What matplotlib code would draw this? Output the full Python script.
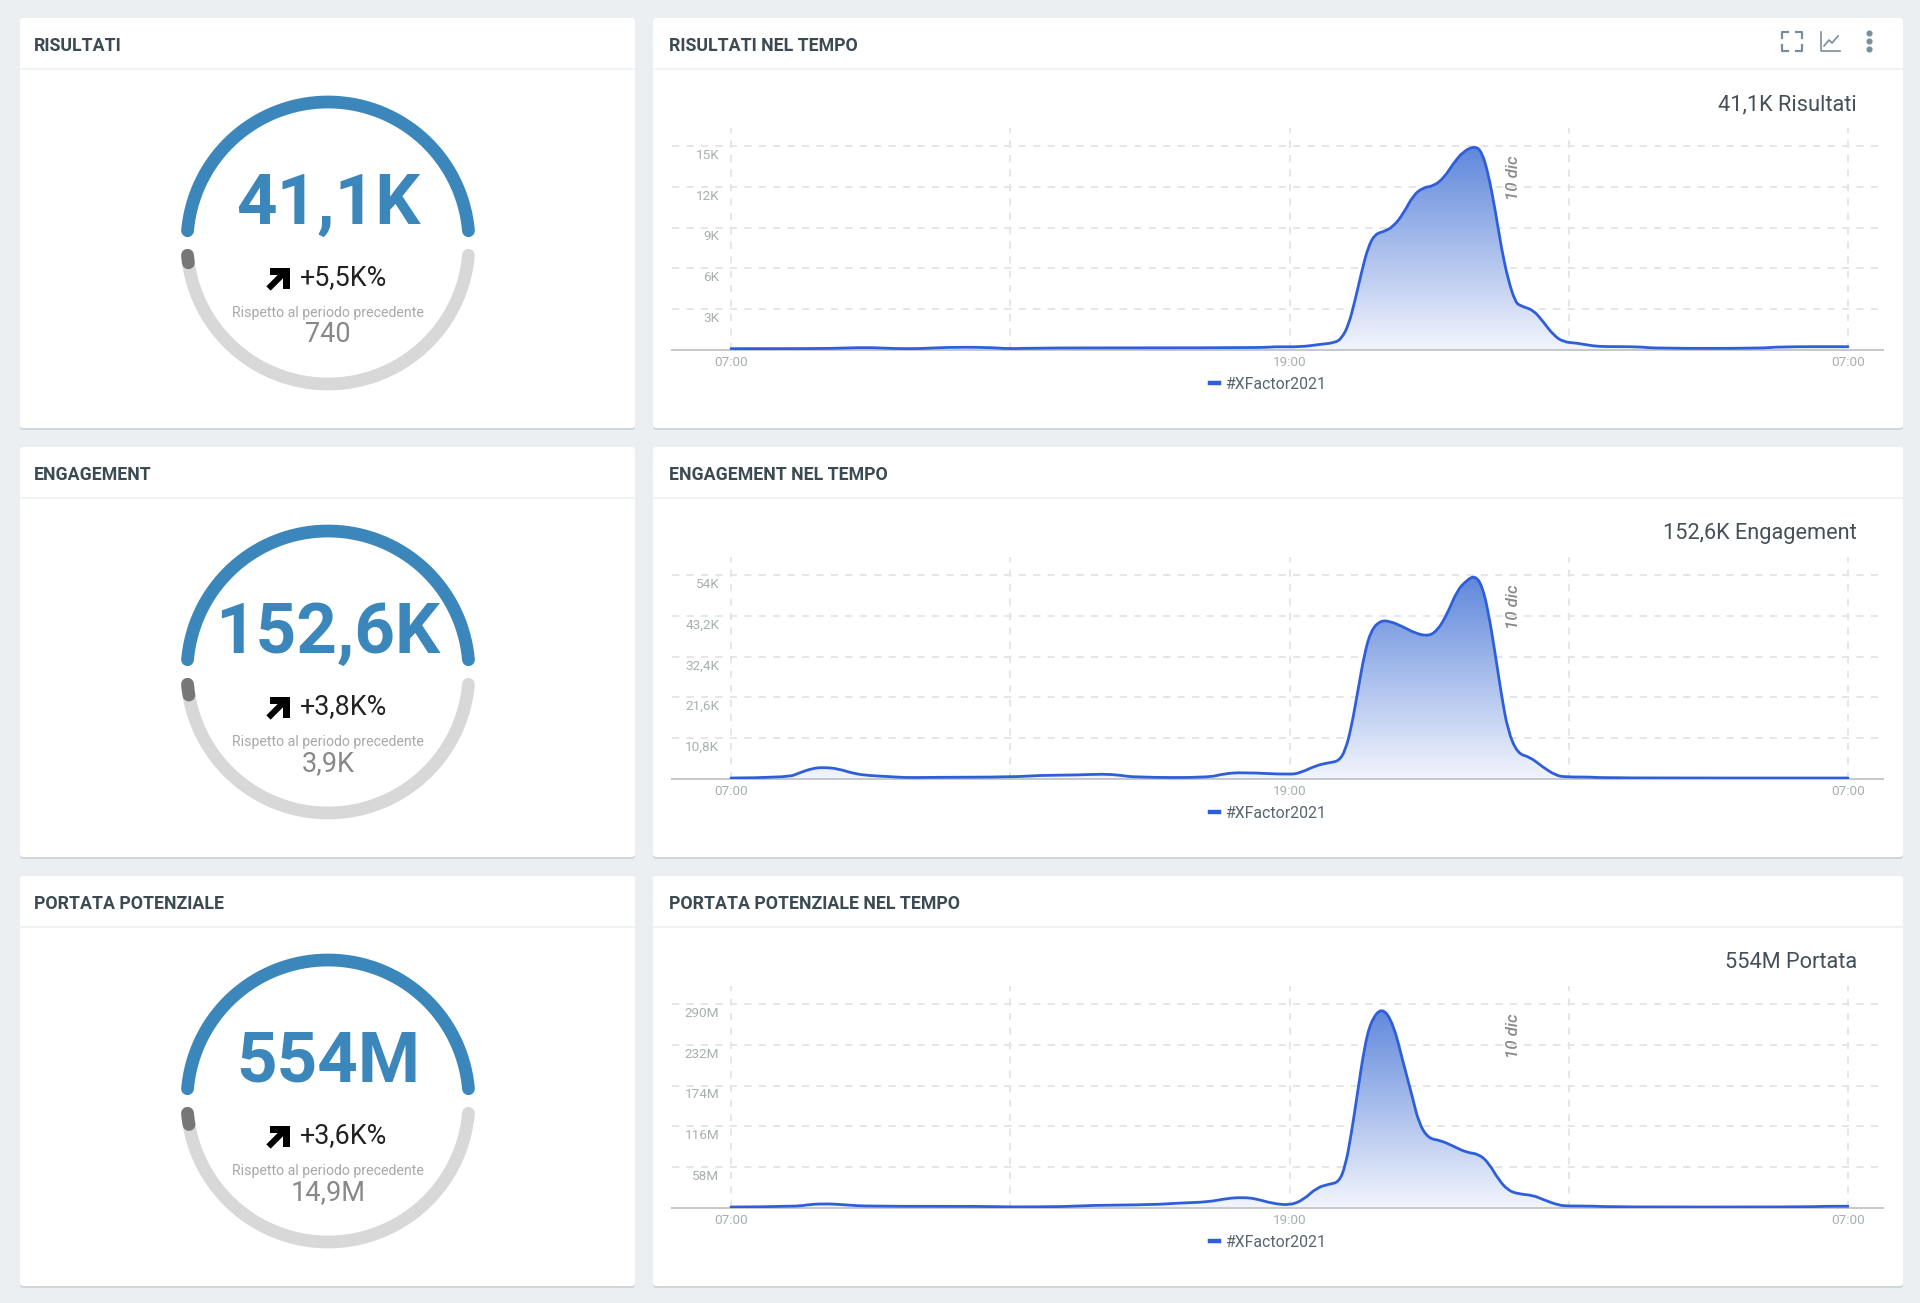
import numpy as np
import matplotlib
matplotlib.use('Agg')
import matplotlib.pyplot as plt
from matplotlib.patches import FancyBboxPatch, Polygon, PathPatch
from matplotlib.path import Path
from matplotlib.transforms import ScaledTranslation

plt.rcParams['font.family'] = ['Roboto', 'DejaVu Sans']

# ---- data ----
titles_left = ['RISULTATI', 'ENGAGEMENT', 'PORTATA POTENZIALE']
titles_right = ['RISULTATI NEL TEMPO', 'ENGAGEMENT NEL TEMPO', 'PORTATA POTENZIALE NEL TEMPO']
totals = ['41,1K', '152,6K', '554M']
deltas = ['+5,5K%', '+3,8K%', '+3,6K%']
previous = ['740', '3,9K', '14,9M']
totals_right = ['41,1K Risultati', '152,6K Engagement', '554M Portata']

x_ticks = [0, 6, 12, 18, 24]
x_labels = ['07:00', '', '19:00', '', '07:00']

y_ticks_res = [3000, 6000, 9000, 12000, 15000]
y_labels_res = ['3K', '6K', '9K', '12K', '15K']
y_ticks_eng = [10800, 21600, 32400, 43200, 54000]
y_labels_eng = ['10,8K', '21,6K', '32,4K', '43,2K', '54K']
y_ticks_por = [58, 116, 174, 232, 290]
y_labels_por = ['58M', '116M', '174M', '232M', '290M']

hours_res = [0, 1, 2.2, 2.9, 3.5, 4.1, 4.6, 5.5, 6.0, 6.5, 11.4, 11.67, 12.23, 12.66, 12.98, 13.12, 13.27,
             13.41, 13.55, 13.69, 13.84, 14.02, 14.23, 14.45, 14.66, 14.88, 15.09, 15.31, 15.52, 15.74,
             15.99, 16.13, 16.27, 16.42, 16.56, 16.70, 16.85, 16.95, 17.24, 17.45, 17.67, 17.88, 18.17,
             18.52, 18.8, 19.5, 19.85, 22.15, 22.5, 24]
values_res = [100, 100, 110, 200, 100, 100, 200, 200, 80, 160, 160, 250, 220, 416, 539, 857, 1837,
              3675, 5757, 7595, 8526, 8697, 9065, 10045, 11392, 11956, 12054, 12617, 13720, 14626,
              15000, 14577, 12985, 10290, 7350, 5145, 3552, 3258, 2940, 2082, 1102, 588, 514,
              294, 245, 245, 120, 120, 245, 245]

hours_eng = [0, 1.21, 1.48, 1.75, 1.99, 2.30, 2.64, 2.99, 3.33, 3.74, 4.29, 6.07, 6.62, 7.44, 7.99, 8.33,
             8.67, 10.25, 10.59, 11.0, 12.02, 12.24, 12.58, 12.85, 13.06, 13.2, 13.33, 13.47, 13.61,
             13.75, 13.95, 14.16, 14.43, 14.70, 14.98, 15.18, 15.39, 15.60, 15.80, 15.98, 16.14, 16.28,
             16.42, 16.55, 16.69, 16.9, 17.17, 17.44, 17.72, 17.92, 18.47, 18.8, 24]
values_eng = [264, 350, 1670, 2820, 3080, 2730, 1410, 880, 700, 350, 440, 530, 970, 1057, 1320, 1057,
              440, 350, 1410, 1760, 1145, 1670, 3610, 4317, 4757, 7577, 13740, 23430, 33125,
              39290, 41935, 41760, 40350, 38590, 37800, 39290, 43700, 49860, 52510, 53900, 51190, 43700,
              33125, 22550, 12860, 6700, 5815, 3170, 970, 530, 530, 260, 260]

hours_por = [0, 1.41, 1.69, 2.10, 2.51, 2.92, 5.52, 5.93, 7.17, 7.72, 9.09, 9.63, 10.25, 10.66, 11.0,
             11.28, 11.62, 12.02, 12.31, 12.58, 12.85, 13.06, 13.2, 13.33, 13.47, 13.61, 13.75, 13.99,
             14.23, 14.43, 14.64, 14.78, 14.98, 15.25, 15.53, 15.80, 16.07, 16.28, 16.49, 16.69, 16.9,
             17.24, 17.44, 17.79, 17.99, 18.54, 18.95, 23.0, 23.5, 24]
values_por = [1.4, 1.9, 5.2, 6.1, 4.2, 2.4, 2.4, 1.4, 1.9, 3.8, 4.7, 7.1, 8.5, 13.7, 15.1,
              13.2, 6.6, 3.8, 12.2, 28.7, 33.9, 36.7, 59.3, 106, 167.6, 228.8, 266, 286,
              262, 210, 158, 120.5, 99, 96, 87.6, 79, 76.7, 64, 40.5, 25.4, 20.2,
              17.9, 12.2, 3.8, 2.8, 2.8, 1.4, 1.4, 2.5, 2.5]

# share of the lower ring taken by the previous period
prev_share = [0.018, 0.026, 0.027]

W, H = 1920, 1303
BG = '#ebeff2'
BLUE = '#3b87bb'
LINE = '#2f5fd8'
TITLE = '#3c4a52'
GRID = '#e2e4e6'
ROW_STEP = 429

fig = plt.figure(figsize=(W / 100, H / 100), dpi=100, facecolor=BG)
# page layer in pixels, y going down
bg = fig.add_axes([0, 0, 1, 1], zorder=0)
bg.set_xlim(0, W)
bg.set_ylim(H, 0)
bg.axis('off')


def card(x0, x1, y0, y1):
    bg.add_patch(FancyBboxPatch((x0, y0 + 2), x1 - x0, y1 - y0, boxstyle='round,pad=0,rounding_size=3',
                                fc='#d3d6d9', ec='none', zorder=1))
    bg.add_patch(FancyBboxPatch((x0, y0), x1 - x0, y1 - y0, boxstyle='round,pad=0,rounding_size=3',
                                fc='white', ec='none', zorder=2))
    bg.plot([x0, x1], [y0 + 51, y0 + 51], color='#eef0f1', lw=1.2, zorder=3)


def gauge(row):
    cx, cy, r = 328, 243 + row * ROW_STEP, 141
    a = np.radians(np.linspace(5, 175, 200))
    bg.plot(cx + r * np.cos(a), cy - r * np.sin(a), color=BLUE, lw=9.2, solid_capstyle='round', zorder=3)
    a = np.radians(np.linspace(185, 355, 200))
    bg.plot(cx + r * np.cos(a), cy - r * np.sin(a), color='#d8d8d8', lw=9.2, solid_capstyle='round', zorder=3)
    a = np.radians(np.linspace(185, 185 + 170 * prev_share[row], 20))
    bg.plot(cx + r * np.cos(a), cy - r * np.sin(a), color='#777777', lw=9.2, solid_capstyle='round', zorder=4)

    bg.text(cx, cy - 19, totals[row], fontsize=51, fontweight='bold', color=BLUE, ha='center', va='baseline', zorder=5)
    bg.text(343.5, cy + 42, deltas[row], fontsize=19.4, color='#222222', ha='center', va='baseline', zorder=5)
    # arrow up right
    t = cy + 25
    bg.plot([268.5, 286], [t + 20.5, t + 3], color='black', lw=4.4, solid_capstyle='butt', zorder=5)
    bg.add_patch(Polygon([[270, t], [290, t], [290, t + 21], [283, t + 21], [283, t + 6.5], [270, t + 6.5]],
                         fc='black', ec='none', zorder=5))
    bg.text(cx, cy + 74, 'Rispetto al periodo precedente', fontsize=10.2, color='#a8a8a8', ha='center', va='baseline', zorder=5)
    bg.text(cx, cy + 99.5, previous[row], fontsize=19.5, color='#888888', ha='center', va='baseline', zorder=5)


def icons():
    c = '#78909c'
    for x, sx in ((1782, 1), (1802, -1)):
        for y, sy in ((32, 1), (51, -1)):
            bg.plot([x + sx * 6, x, x], [y, y, y + sy * 6], color=c, lw=1.6, zorder=5)
    bg.plot([1821, 1821, 1840], [32, 51, 51], color=c, lw=1.2, zorder=5)
    bg.plot([1824, 1829, 1832, 1838], [46, 40, 43, 36], color=c, lw=1.2, zorder=5)
    bg.plot([1869, 1869, 1869], [33, 41, 49], 'o', color=c, ms=3.4, zorder=5)


def chart(row, hours, values, yticks, ylabels):
    off = row * ROW_STEP
    top, base = 128 + off, 350 + off
    left, right = 672, 1883
    ax = fig.add_axes([left / W, 1 - base / H, (right - left) / W, (base - top) / H], zorder=2)
    ax.patch.set_alpha(0)
    px_per_hour = (1848 - 731) / 24
    ax.set_xlim((left - 731) / px_per_hour, (right - 731) / px_per_hour)
    ax.set_ylim(0, yticks[-1] * (base - top) / 204)
    for s in ('top', 'left', 'right'):
        ax.spines[s].set_visible(False)
    ax.spines['bottom'].set_color('#c4c8ca')
    ax.spines['bottom'].set_linewidth(1.4)

    ax.set_xticks(x_ticks)
    ax.set_xticklabels(x_labels, fontsize=9.7, color='#a9aeb0')
    ax.set_yticks(yticks)
    ax.set_yticklabels(ylabels, fontsize=9.7, color='#a9aeb0')
    ax.tick_params(axis='x', length=0, pad=4.5)
    ax.tick_params(axis='y', length=0, pad=-34)
    for lab in ax.get_yticklabels():
        lab.set_verticalalignment('top')
        lab.set_transform(lab.get_transform() + ScaledTranslation(0, -2 / 72, fig.dpi_scale_trans))
    ax.grid(True, color=GRID, lw=1.3, ls=(0, (4, 4)), zorder=1)
    ax.set_axisbelow(True)

    # smooth line through the read points, anchors on the segment middles
    pts = np.column_stack((hours, values))
    verts = [pts[0]]
    codes = [Path.MOVETO]
    for i in range(1, len(pts) - 1):
        verts += [pts[i], (pts[i] + pts[i + 1]) / 2]
        codes += [Path.CURVE3, Path.CURVE3]
    verts.append(pts[-1])
    codes.append(Path.LINETO)
    line = Path(verts, codes)
    area = Path(verts + [(hours[-1], 0), (hours[0], 0), pts[0]],
                codes + [Path.LINETO, Path.LINETO, Path.CLOSEPOLY])

    ymax = max(values)
    grad = np.zeros((256, 1, 4))
    grad[:, 0, 0] = np.linspace(0.37, 0.95, 256)
    grad[:, 0, 1] = np.linspace(0.53, 0.96, 256)
    grad[:, 0, 2] = np.linspace(0.86, 0.99, 256)
    grad[:, 0, 3] = 1
    im = ax.imshow(grad, extent=(hours[0], hours[-1], 0, ymax), origin='upper', aspect='auto', zorder=2)
    im.set_clip_path(PathPatch(area, transform=ax.transData))
    ax.add_patch(PathPatch(line, fc='none', ec=LINE, lw=2.0, zorder=3, capstyle='round', label='#XFactor2021'))
    ax.set_xlim((left - 731) / px_per_hour, (right - 731) / px_per_hour)
    ax.set_ylim(0, yticks[-1] * (base - top) / 204)

    h, l = [plt.Line2D([], [], color=LINE, lw=3.2)], ['#XFactor2021']
    ax.legend(h, l, loc='center', bbox_to_anchor=(1268 / W, 1 - (384.5 + off) / H), bbox_transform=fig.transFigure,
              frameon=False, fontsize=11.4, handlelength=0.55, handletextpad=0.35, labelcolor='#56656e',
              borderpad=0, borderaxespad=0)

    bg.text(1857, 105 + off, totals_right[row], fontsize=15.7, color='#455058', ha='right', va='center', zorder=5)
    bg.text(1513, 178 + off, '10 dic', fontsize=12.2, style='italic', fontweight='medium', color='#8a8a8a', rotation=90,
            ha='center', va='center', zorder=5)


series = [(hours_res, values_res, y_ticks_res, y_labels_res),
          (hours_eng, values_eng, y_ticks_eng, y_labels_eng),
          (hours_por, values_por, y_ticks_por, y_labels_por)]

for row in range(3):
    off = row * ROW_STEP
    card(20, 635, 18 + off, 428 + off)
    card(653, 1903, 18 + off, 428 + off)
    bg.text(34, 46 + off, titles_left[row], fontsize=12.8, fontweight='bold', color=TITLE, va='center', zorder=5)
    bg.text(669, 46 + off, titles_right[row], fontsize=12.8, fontweight='bold', color=TITLE, va='center', zorder=5)
    gauge(row)
    chart(row, *series[row])
icons()

fig.savefig('out.png', dpi=100, facecolor=BG)
